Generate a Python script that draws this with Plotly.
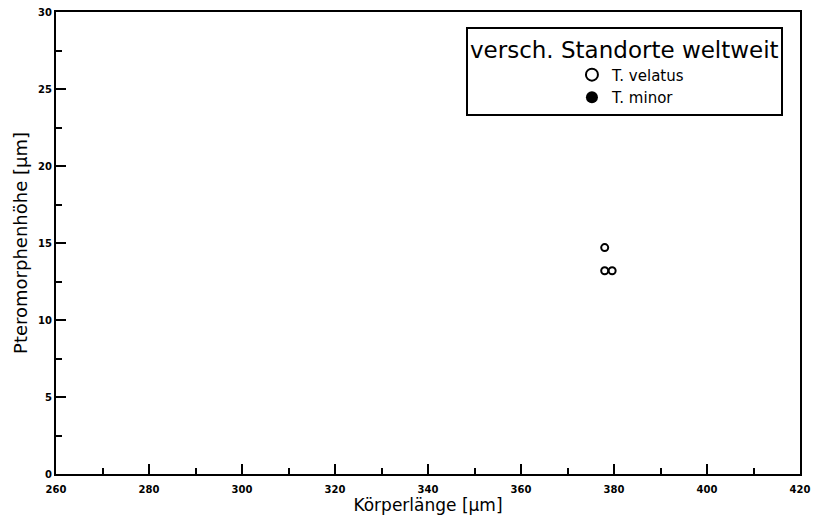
import plotly.graph_objects as go

# data
velatus_x = [378.0, 378.0, 379.6]
velatus_y = [14.7, 13.2, 13.2]
minor_x = [None]   # no T. minor values at these sites
minor_y = [None]

x_ticks = [260, 280, 300, 320, 340, 360, 380, 400, 420]
y_ticks = [0, 5, 10, 15, 20, 25, 30]

FONT = "DejaVu Sans"

fig = go.Figure()
fig.add_trace(go.Scatter(x=velatus_x, y=velatus_y, mode="markers", name="T. velatus",
                         marker=dict(symbol="circle-open", size=7, color="black",
                                     line=dict(width=2, color="black"))))
fig.add_trace(go.Scatter(x=minor_x, y=minor_y, mode="markers", name="T. minor",
                         marker=dict(symbol="circle", size=8, color="black")))

axis_common = dict(showline=True, linecolor="black", linewidth=2, mirror=True,
                   showgrid=False, zeroline=False, ticks="inside", ticklen=10,
                   tickwidth=1.5, tickcolor="black", automargin=False,
                   tickfont=dict(family=FONT, size=10, color="black", weight="bold"))

fig.update_xaxes(range=[260, 420], tickvals=x_ticks, ticktext=[str(v) for v in x_ticks],
                 minor=dict(dtick=10, ticks="inside", ticklen=6, tickwidth=1.5, tickcolor="black"),
                 ticklabelstandoff=5,
                 title=dict(text="Körperlänge [µm]", standoff=3,
                            font=dict(family=FONT, size=17, color="black")),
                 **axis_common)
fig.update_yaxes(range=[0, 30], tickvals=y_ticks, ticktext=[str(v) for v in y_ticks],
                 minor=dict(dtick=2.5, ticks="inside", ticklen=6, tickwidth=1.5, tickcolor="black"),
                 title=dict(text="Pteromorphenhöhe [µm]", standoff=6,
                            font=dict(family=FONT, size=18, color="black")),
                 **axis_common)

fig.update_layout(
    width=822, height=515,
    margin=dict(l=56, r=22, t=12, b=41),
    paper_bgcolor="white", plot_bgcolor="white",
    showlegend=True,
    legend=dict(
        x=0.551, y=0.9686, xanchor="left", yanchor="top",
        bgcolor="white", bordercolor="black", borderwidth=2,
        title=dict(text="versch. Standorte weltweit", side="top",
                   font=dict(family=FONT, size=23, color="black")),
        font=dict(family=FONT, size=15, color="black"),
        indentation=104,
        tracegroupgap=0,
        itemsizing="constant",
    ),
)

# remove the browser's default 8px body margin so the figure fills the window exactly
fig.write_html("out.html", config={"displayModeBar": False},
               post_script="document.body.style.margin='0px';")
